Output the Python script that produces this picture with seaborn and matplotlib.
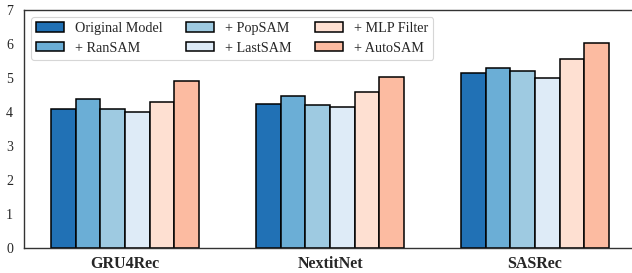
import matplotlib
matplotlib.use("Agg")
import matplotlib.pyplot as plt
import seaborn as sns
import pandas as pd

models = ["GRU4Rec", "NextitNet", "SASRec"]
methods = ["Original Model", "+ RanSAM", "+ PopSAM", "+ LastSAM", "+ MLP Filter", "+ AutoSAM"]
gru4rec = [4.09, 4.38, 4.10, 4.01, 4.28, 4.91]
nextitnet = [4.24, 4.48, 4.20, 4.14, 4.58, 5.04]
sasrec = [5.14, 5.30, 5.21, 5.00, 5.56, 6.02]
colors = ["#2171b5", "#6baed6", "#9ecae1", "#deebf7", "#fee0d2", "#fcbba1"]
yticks = [0, 1, 2, 3, 4, 5, 6, 7]

rows = []
for m, vals in zip(models, [gru4rec, nextitnet, sasrec]):
    for meth, v in zip(methods, vals):
        rows.append({"model": m, "method": meth, "value": v})
df = pd.DataFrame(rows)

sns.set_style("white")
plt.rcParams["font.family"] = ["Liberation Serif", "DejaVu Serif"]

fig = plt.figure(figsize=(6.32, 2.73), dpi=100)
ax = fig.add_axes([0.038, 0.092, 0.962, 0.871])
sns.barplot(data=df, x="model", y="value", hue="method", order=models,
            hue_order=methods, palette=colors, width=0.72, edgecolor="black",
            linewidth=1.1, saturation=1, ax=ax)

ax.set_xlim(-0.493, 2.473)
ax.set_ylim(0, 7)
ax.set_yticks(yticks)
ax.set_yticklabels([str(t) for t in yticks], fontsize=10)
ax.set_xlabel("")
ax.set_ylabel("")
for lab in ax.get_xticklabels():
    lab.set_fontweight("bold")
    lab.set_fontsize(11.5)
ax.tick_params(axis="both", length=0, pad=6)
ax.tick_params(axis="y", pad=8)
for s in ["left", "bottom", "top"]:
    ax.spines[s].set_color("#333333")
    ax.spines[s].set_linewidth(1.0)
ax.spines["right"].set_visible(False)

leg = ax.legend(ncol=3, loc="upper left", bbox_to_anchor=(0.011, 0.97), fontsize=10.2,
                frameon=True, fancybox=True, handlelength=2.0, handleheight=0.65,
                columnspacing=1.6, labelspacing=0.45, borderpad=0.35, handletextpad=0.8,
                borderaxespad=0)
leg.get_frame().set_edgecolor("#cccccc")
leg.get_frame().set_linewidth(0.8)

fig.savefig("out.png", dpi=100)
